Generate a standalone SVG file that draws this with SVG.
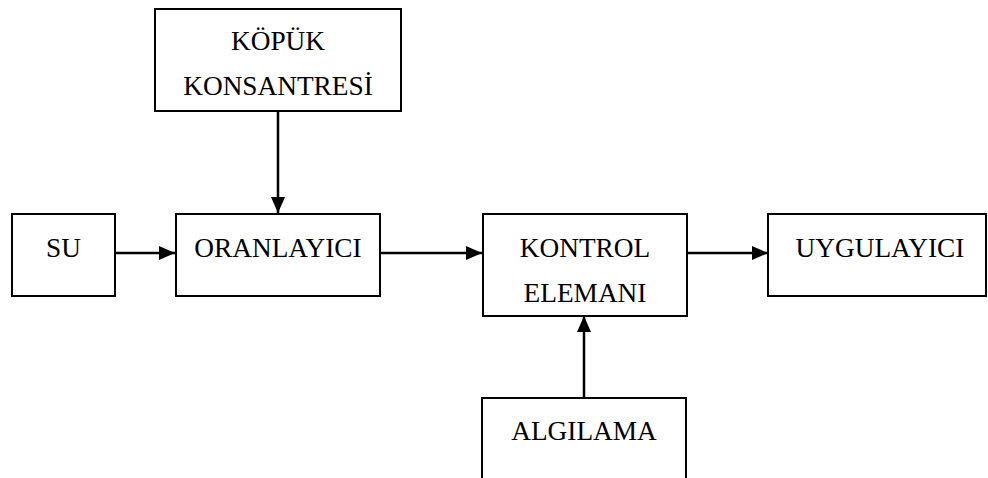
<svg xmlns="http://www.w3.org/2000/svg" width="988" height="478" viewBox="0 0 988 478">
<style>
.box{fill:#fff;stroke:#000;stroke-width:2}
.lbl{font-family:"Liberation Serif","Times New Roman",serif;font-size:27.3px;fill:#000;text-anchor:middle}
.con{stroke:#000;stroke-width:2.5;fill:none;marker-end:url(#ah)}
</style>
<defs>
<marker id="ah" markerWidth="16" markerHeight="14" refX="16" refY="7" orient="auto" markerUnits="userSpaceOnUse">
<path d="M0,0 L16,7 L0,14 Z" fill="#000"/>
</marker>
</defs>
<rect width="988" height="478" fill="#fff"/>
<g id="connectors">
<line class="con" x1="278" y1="111" x2="278" y2="213"/>
<line class="con" x1="115" y1="253" x2="175" y2="253"/>
<line class="con" x1="380" y1="253" x2="482" y2="253"/>
<line class="con" x1="687" y1="253" x2="768" y2="253"/>
<line class="con" x1="584" y1="398" x2="584" y2="316"/>
</g>
<g id="kopuk">
<rect class="box" x="155" y="9" width="246" height="102"/>
<text class="lbl" x="278" y="50">KÖPÜK</text>
<text class="lbl" x="278" y="95">KONSANTRESİ</text>
</g>
<g id="su">
<rect class="box" x="12" y="214" width="103" height="82"/>
<text class="lbl" x="63.5" y="257">SU</text>
</g>
<g id="oranlayici">
<rect class="box" x="176" y="214" width="204" height="82"/>
<text class="lbl" x="278" y="257">ORANLAYICI</text>
</g>
<g id="kontrol">
<rect class="box" x="483" y="214" width="204" height="102"/>
<text class="lbl" x="585" y="257">KONTROL</text>
<text class="lbl" x="585" y="302">ELEMANI</text>
</g>
<g id="uygulayici">
<rect class="box" x="768" y="214" width="218" height="82"/>
<text class="lbl" x="880" y="257">UYGULAYICI</text>
</g>
<g id="algilama">
<rect class="box" x="482" y="398" width="204" height="90"/>
<text class="lbl" x="584" y="440">ALGILAMA</text>
</g>
</svg>
